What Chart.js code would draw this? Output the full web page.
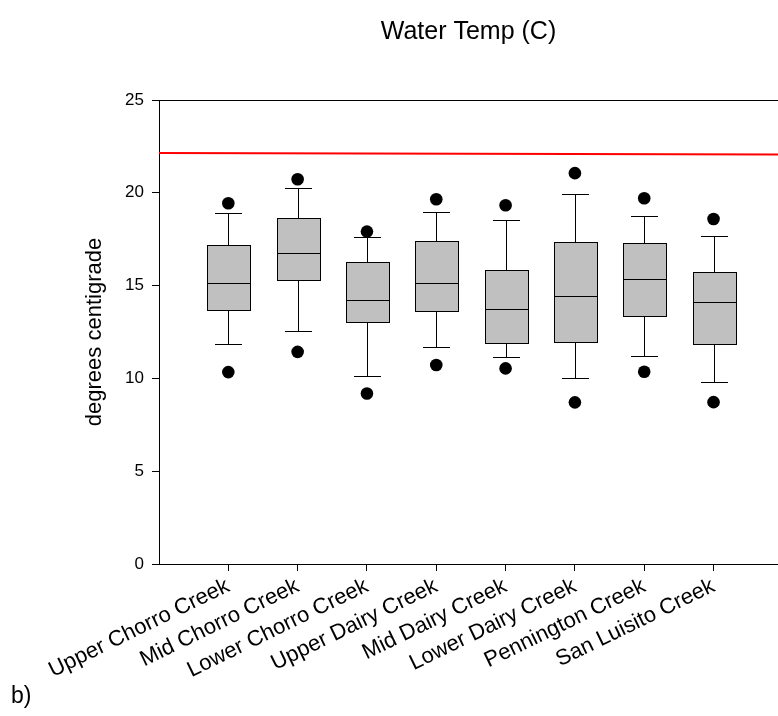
<!DOCTYPE html>
<html>
<head>
<meta charset="utf-8">
<script src="https://cdn.jsdelivr.net/npm/chart.js@4.4.1/dist/chart.umd.min.js"></script>
<style>
html,body{margin:0;padding:0;background:#fff;overflow:hidden;}
#wrap{width:778px;height:716px;}
</style>
</head>
<body>
<div id="wrap"><canvas id="c" width="778" height="716"></canvas></div>
<script>
const categories = ["Upper Chorro Creek","Mid Chorro Creek","Lower Chorro Creek","Upper Dairy Creek","Mid Dairy Creek","Lower Dairy Creek","Pennington Creek","San Luisito Creek"];
const whiskerLow  = [11.85, 12.57, 10.14, 11.70, 11.13, 10.00, 11.20, 9.80];
const q1          = [13.67, 15.32, 13.02, 13.63, 11.90, 11.94, 13.34, 11.83];
const median      = [15.12, 16.74, 14.21, 15.12, 13.72, 14.42, 15.37, 14.13];
const q3          = [17.17, 18.65, 16.27, 17.39, 15.83, 17.35, 17.31, 15.72];
const whiskerHigh = [18.90, 20.28, 17.64, 18.95, 18.52, 19.96, 18.74, 17.69];
const outlierLow  = [10.34, 11.43, 9.19, 10.72, 10.54, 8.71, 10.36, 8.72];
const outlierHigh = [19.44, 20.73, 17.91, 19.65, 19.33, 21.06, 19.71, 18.59];
const thresholdLine = [22.14, 22.07];
const yTicks = [0, 5, 10, 15, 20, 25];

const X_MAX = 8.93;
const FONT = "'Liberation Sans', Arial, sans-serif";

const outlierPoints = [];
categories.forEach((c, i) => {
  outlierPoints.push({x: i + 1, y: outlierHigh[i]});
  outlierPoints.push({x: i + 1, y: outlierLow[i]});
});

const boxPlugin = {
  id: 'boxes',
  beforeDatasetsDraw(chart) {
    const {ctx, scales: {x, y}} = chart;
    const step = x.getPixelForValue(2) - x.getPixelForValue(1);
    const boxW = step * 0.606;
    const capW = step * 0.39;
    const snap = v => Math.round(v) + 0.5;
    ctx.save();
    ctx.lineWidth = 1;
    ctx.strokeStyle = '#000';
    categories.forEach((c, i) => {
      const cx = snap(x.getPixelForValue(i + 1));
      const yLo = snap(y.getPixelForValue(whiskerLow[i]));
      const yQ1 = snap(y.getPixelForValue(q1[i]));
      const yMed = snap(y.getPixelForValue(median[i]));
      const yQ3 = snap(y.getPixelForValue(q3[i]));
      const yHi = snap(y.getPixelForValue(whiskerHigh[i]));
      ctx.beginPath();
      ctx.moveTo(cx, yQ3); ctx.lineTo(cx, yHi);
      ctx.moveTo(cx, yQ1); ctx.lineTo(cx, yLo);
      ctx.moveTo(Math.round(cx - capW / 2), yHi); ctx.lineTo(Math.round(cx + capW / 2), yHi);
      ctx.moveTo(Math.round(cx - capW / 2), yLo); ctx.lineTo(Math.round(cx + capW / 2), yLo);
      ctx.stroke();
      const bl = snap(cx - boxW / 2), br = snap(cx + boxW / 2);
      ctx.fillStyle = '#c0c0c0';
      ctx.fillRect(bl, yQ3, br - bl, yQ1 - yQ3);
      ctx.strokeRect(bl, yQ3, br - bl, yQ1 - yQ3);
      ctx.beginPath();
      ctx.moveTo(bl, yMed); ctx.lineTo(br, yMed);
      ctx.stroke();
    });
    ctx.restore();
  }
};

const panelLabel = {
  id: 'panelLabel',
  afterDraw(chart) {
    const ctx = chart.ctx;
    ctx.save();
    ctx.fillStyle = '#000';
    ctx.font = "23px " + FONT;
    ctx.textAlign = 'left';
    ctx.textBaseline = 'alphabetic';
    ctx.fillText('b)', 11, 703);
    ctx.restore();
  }
};

new Chart(document.getElementById('c'), {
  data: {
    datasets: [
      {
        type: 'line',
        label: 'limit',
        data: [{x: 0, y: thresholdLine[0]}, {x: X_MAX, y: thresholdLine[1]}],
        borderColor: '#ff0000',
        borderWidth: 2,
        pointRadius: 0,
        fill: false
      },
      {
        type: 'scatter',
        label: 'outliers',
        data: outlierPoints,
        backgroundColor: '#000',
        borderColor: '#000',
        pointRadius: 6.3,
        borderWidth: 0
      }
    ]
  },
  options: {
    responsive: false,
    animation: false,
    devicePixelRatio: 1,
    layout: {autoPadding: false, padding: {left: 0, top: 0, bottom: 0, right: 0}},
    plugins: {
      legend: {display: false},
      tooltip: {enabled: false},
      title: {
        display: true,
        text: 'Water Temp (C)',
        fullSize: false,
        color: '#000',
        font: {family: FONT, size: 25, weight: 'normal', lineHeight: 1.2},
        padding: {top: 17, bottom: 53}
      }
    },
    scales: {
      x: {
        type: 'linear',
        min: 0,
        max: X_MAX,
        afterBuildTicks(scale) {
          scale.ticks = categories.map((c, i) => ({value: i + 1}));
        },
        afterFit(scale) {
          scale.height = 152;
        },
        ticks: {
          autoSkip: false,
          minRotation: 26,
          maxRotation: 26,
          padding: 2,
          color: '#000',
          font: {family: FONT, size: 22},
          callback: (v) => categories[v - 1]
        },
        grid: {
          display: true,
          drawOnChartArea: false,
          drawTicks: true,
          tickLength: 7,
          tickColor: '#000',
          color: '#000',
          lineWidth: 1
        },
        border: {display: true, color: '#000', width: 1}
      },
      y: {
        type: 'linear',
        min: 0,
        max: 25,
        afterBuildTicks(scale) {
          scale.ticks = yTicks.map(v => ({value: v}));
        },
        afterFit(scale) { scale.width = 159; },
        title: {
          display: true,
          text: 'degrees centigrade',
          color: '#000',
          font: {family: FONT, size: 22, lineHeight: 1.2},
          padding: {top: 82, bottom: 0}
        },
        ticks: {
          color: '#000',
          padding: 8,
          font: {family: FONT, size: 17}
        },
        grid: {
          display: true,
          drawTicks: true,
          tickLength: 7,
          tickColor: '#000',
          color: (ctx) => (ctx.tick && ctx.tick.value === 25) ? '#000' : 'rgba(0,0,0,0)',
          lineWidth: 1
        },
        border: {display: true, color: '#000', width: 1}
      }
    }
  },
  plugins: [boxPlugin, panelLabel]
});
</script>
</body>
</html>
